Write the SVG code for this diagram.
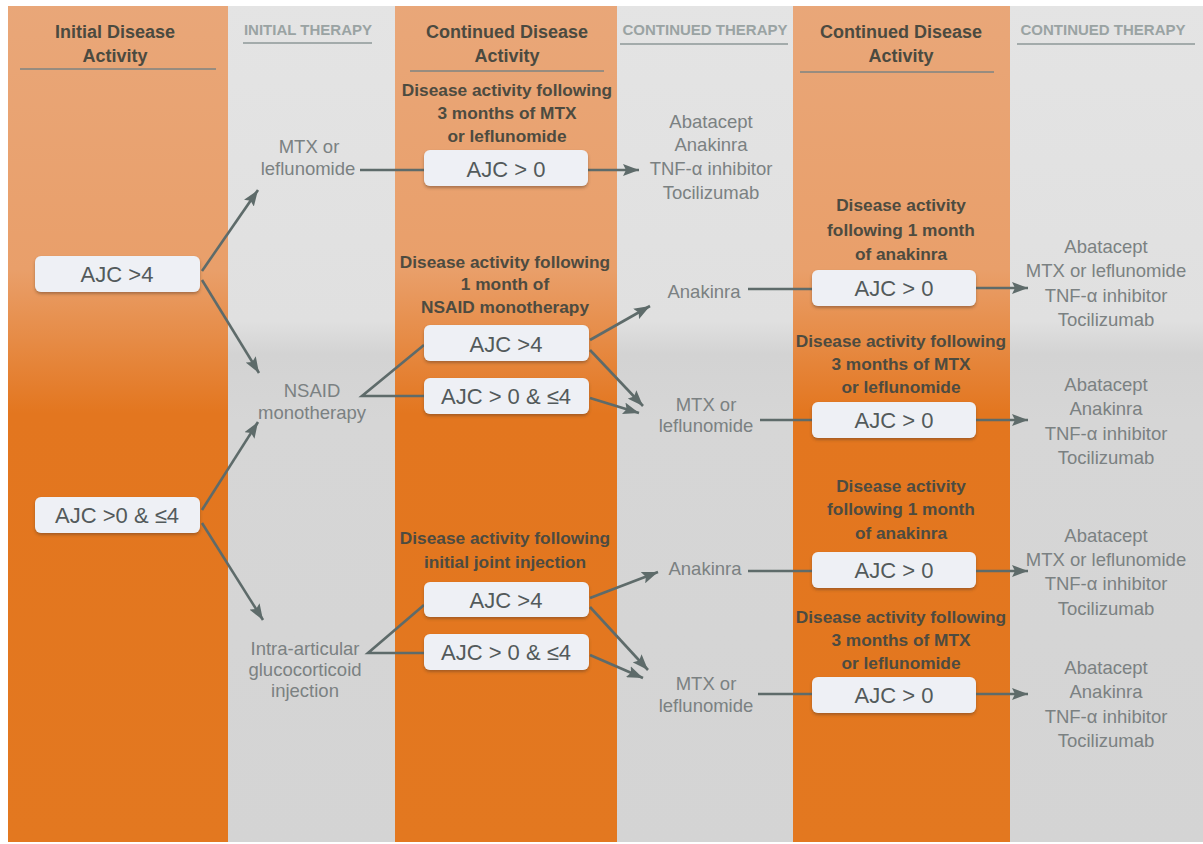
<svg xmlns="http://www.w3.org/2000/svg" width="1203" height="844" viewBox="0 0 1203 844">
<style>
.hd{font-family:"Liberation Sans",Arial,sans-serif;font-weight:bold;font-size:18px;fill:#4b4a40;text-anchor:middle}
.th{font-family:"Liberation Sans",Arial,sans-serif;font-weight:bold;font-size:15px;fill:#9aa3a3;text-anchor:middle}
.lb{font-family:"Liberation Sans",Arial,sans-serif;font-weight:bold;font-size:17.3px;fill:#4d4b40;text-anchor:middle}
.tx{font-family:"Liberation Sans",Arial,sans-serif;font-size:18.5px;fill:#7b8182;text-anchor:middle}
.bt{font-family:"Liberation Sans",Arial,sans-serif;font-size:22px;fill:#535a5b;text-anchor:middle}
.box{fill:#eef0f5;filter:url(#sh)}
.ul{stroke:#7d8583;stroke-width:1.5}
.ulg{stroke:#a3abab;stroke-width:2}
.c{stroke:#5e6b6a;stroke-width:2.6;fill:none}
.a{marker-end:url(#ah)}
</style>
<defs>
<linearGradient id="og" x1="0" y1="0" x2="0" y2="844" gradientUnits="userSpaceOnUse">
<stop offset="0" stop-color="#e9a779"/>
<stop offset="0.32" stop-color="#e99f6a"/>
<stop offset="0.49" stop-color="#e3761f"/>
<stop offset="1" stop-color="#e37820"/>
</linearGradient>
<linearGradient id="gg" x1="0" y1="0" x2="0" y2="844" gradientUnits="userSpaceOnUse">
<stop offset="0" stop-color="#e4e4e4"/>
<stop offset="0.38" stop-color="#e0e0e0"/>
<stop offset="0.42" stop-color="#d3d3d3"/>
<stop offset="0.5" stop-color="#d6d6d6"/>
<stop offset="1" stop-color="#d4d4d4"/>
</linearGradient>
<filter id="sh" x="-10%" y="-20%" width="120%" height="150%">
<feDropShadow dx="0" dy="2" stdDeviation="1.5" flood-color="#5a3a20" flood-opacity="0.45"/>
</filter>
<marker id="ah" markerWidth="18" markerHeight="12" refX="16" refY="6" orient="auto" markerUnits="userSpaceOnUse">
<path d="M0,0 L16,6 L0,12 L3,6 Z" fill="#5e6b6a"/>
</marker>
</defs>
<rect width="1203" height="844" fill="#ffffff"/>
<g id="columns">
<rect x="8" y="6" width="220" height="836" fill="url(#og)"/>
<rect x="228" y="6" width="167" height="836" fill="url(#gg)"/>
<rect x="395" y="6" width="222" height="836" fill="url(#og)"/>
<rect x="617" y="6" width="176" height="836" fill="url(#gg)"/>
<rect x="793" y="6" width="217" height="836" fill="url(#og)"/>
<rect x="1010" y="6" width="193" height="836" fill="url(#gg)"/>
</g>
<g id="headers">
<text class="hd" x="115" y="38">Initial Disease</text>
<text class="hd" x="115" y="62">Activity</text>
<line class="ul" x1="20" y1="69" x2="216" y2="69"/>
<text class="th" x="308" y="35">INITIAL THERAPY</text>
<line class="ulg" x1="243" y1="43" x2="372" y2="43"/>
<text class="hd" x="507" y="38">Continued Disease</text>
<text class="hd" x="507" y="62">Activity</text>
<line class="ul" x1="410" y1="71" x2="604" y2="71"/>
<text class="th" x="705" y="35">CONTINUED THERAPY</text>
<line class="ulg" x1="620" y1="44" x2="788" y2="44"/>
<text class="hd" x="901" y="38">Continued Disease</text>
<text class="hd" x="901" y="62">Activity</text>
<line class="ul" x1="800" y1="72" x2="994" y2="72"/>
<text class="th" x="1103" y="35">CONTINUED THERAPY</text>
<line class="ulg" x1="1017" y1="44" x2="1195" y2="44"/>
</g>
<g id="connectors">
<path class="c a" d="M202,271 L258,190"/>
<path class="c a" d="M202,280 L259,373"/>
<path class="c a" d="M202,510 L258,422"/>
<path class="c a" d="M202,523 L263,620"/>
<path class="c" d="M360,170 L424,170"/>
<path class="c a" d="M588,170 L639,170"/>
<path class="c" d="M424,345 L362,396 L424,396"/>
<path class="c a" d="M590,340 L650,306"/>
<path class="c a" d="M590,350 L643,406"/>
<path class="c a" d="M590,398 L639,413"/>
<path class="c" d="M748,289 L812,289"/>
<path class="c" d="M760,420 L812,420"/>
<path class="c a" d="M976,288 L1028,288"/>
<path class="c a" d="M976,420 L1028,420"/>
<path class="c a" d="M976,571 L1028,571"/>
<path class="c a" d="M976,694 L1028,694"/>
<path class="c" d="M424,605 L368,653 L424,653"/>
<path class="c a" d="M590,598 L658,572"/>
<path class="c a" d="M590,607 L648,670"/>
<path class="c a" d="M590,655 L643,678"/>
<path class="c" d="M748,571 L812,571"/>
<path class="c" d="M758,694 L812,694"/>
</g>
<g id="n-ajc4">
<rect class="box" x="35" y="256" width="165" height="36" rx="6"/>
<text class="bt" x="117" y="282">AJC &gt;4</text>
</g>
<g id="n-ajc04">
<rect class="box" x="35" y="497" width="165" height="36" rx="6"/>
<text class="bt" x="117" y="523">AJC &gt;0 &amp; ≤4</text>
</g>
<g id="n-mtx1">
<text class="tx" x="309" y="153">MTX or</text>
<text class="tx" x="308" y="175">leflunomide</text>
</g>
<g id="n-nsaid">
<text class="tx" x="312" y="397">NSAID</text>
<text class="tx" x="312" y="419">monotherapy</text>
</g>
<g id="n-iai">
<text class="tx" x="305" y="655">Intra-articular</text>
<text class="tx" x="305" y="676">glucocorticoid</text>
<text class="tx" x="305" y="697">injection</text>
</g>
<g id="n-c3a">
<text class="lb" x="507" y="96">Disease activity following</text>
<text class="lb" x="507" y="119">3 months of MTX</text>
<text class="lb" x="507" y="142">or leflunomide</text>
<rect class="box" x="424" y="150" width="164" height="36" rx="6"/>
<text class="bt" x="506" y="177">AJC &gt; 0</text>
</g>
<g id="n-c3b">
<text class="lb" x="505" y="268">Disease activity following</text>
<text class="lb" x="505" y="290">1 month of</text>
<text class="lb" x="505" y="313">NSAID monotherapy</text>
<rect class="box" x="424" y="325" width="165" height="36" rx="6"/>
<text class="bt" x="506" y="352">AJC &gt;4</text>
</g>
<g id="n-c3c">
<rect class="box" x="424" y="378" width="165" height="36" rx="6"/>
<text class="bt" x="506" y="404">AJC &gt; 0 &amp; ≤4</text>
</g>
<g id="n-c3d">
<text class="lb" x="505" y="544">Disease activity following</text>
<text class="lb" x="505" y="568">initial joint injection</text>
<rect class="box" x="424" y="582" width="165" height="35" rx="6"/>
<text class="bt" x="506" y="608">AJC &gt;4</text>
</g>
<g id="n-c3e">
<rect class="box" x="424" y="634" width="165" height="36" rx="6"/>
<text class="bt" x="506" y="660">AJC &gt; 0 &amp; ≤4</text>
</g>
<g id="n-c4a">
<text class="tx" x="711" y="128">Abatacept</text>
<text class="tx" x="711" y="151">Anakinra</text>
<text class="tx" x="711" y="175">TNF-α inhibitor</text>
<text class="tx" x="711" y="199">Tocilizumab</text>
</g>
<g id="n-anak1">
<text class="tx" x="704" y="298">Anakinra</text>
</g>
<g id="n-mtx2">
<text class="tx" x="706" y="411">MTX or</text>
<text class="tx" x="706" y="432">leflunomide</text>
</g>
<g id="n-anak2">
<text class="tx" x="705" y="575">Anakinra</text>
</g>
<g id="n-mtx3">
<text class="tx" x="706" y="690">MTX or</text>
<text class="tx" x="706" y="712">leflunomide</text>
</g>
<g id="n-c5a">
<text class="lb" x="901" y="211">Disease activity</text>
<text class="lb" x="901" y="236">following 1 month</text>
<text class="lb" x="901" y="260">of anakinra</text>
<rect class="box" x="812" y="270" width="164" height="36" rx="6"/>
<text class="bt" x="894" y="296">AJC &gt; 0</text>
</g>
<g id="n-c5b">
<text class="lb" x="901" y="347">Disease activity following</text>
<text class="lb" x="901" y="370">3 months of MTX</text>
<text class="lb" x="901" y="393">or leflunomide</text>
<rect class="box" x="812" y="402" width="164" height="36" rx="6"/>
<text class="bt" x="894" y="428">AJC &gt; 0</text>
</g>
<g id="n-c5c">
<text class="lb" x="901" y="492">Disease activity</text>
<text class="lb" x="901" y="515">following 1 month</text>
<text class="lb" x="901" y="539">of anakinra</text>
<rect class="box" x="812" y="552" width="164" height="36" rx="6"/>
<text class="bt" x="894" y="578">AJC &gt; 0</text>
</g>
<g id="n-c5d">
<text class="lb" x="901" y="623">Disease activity following</text>
<text class="lb" x="901" y="646">3 months of MTX</text>
<text class="lb" x="901" y="669">or leflunomide</text>
<rect class="box" x="812" y="677" width="164" height="36" rx="6"/>
<text class="bt" x="894" y="703">AJC &gt; 0</text>
</g>
<g id="n-c6a">
<text class="tx" x="1106" y="253">Abatacept</text>
<text class="tx" x="1106" y="277">MTX or leflunomide</text>
<text class="tx" x="1106" y="302">TNF-α inhibitor</text>
<text class="tx" x="1106" y="326">Tocilizumab</text>
</g>
<g id="n-c6b">
<text class="tx" x="1106" y="391">Abatacept</text>
<text class="tx" x="1106" y="415">Anakinra</text>
<text class="tx" x="1106" y="440">TNF-α inhibitor</text>
<text class="tx" x="1106" y="464">Tocilizumab</text>
</g>
<g id="n-c6c">
<text class="tx" x="1106" y="542">Abatacept</text>
<text class="tx" x="1106" y="566">MTX or leflunomide</text>
<text class="tx" x="1106" y="590">TNF-α inhibitor</text>
<text class="tx" x="1106" y="615">Tocilizumab</text>
</g>
<g id="n-c6d">
<text class="tx" x="1106" y="674">Abatacept</text>
<text class="tx" x="1106" y="698">Anakinra</text>
<text class="tx" x="1106" y="723">TNF-α inhibitor</text>
<text class="tx" x="1106" y="747">Tocilizumab</text>
</g>
</svg>
